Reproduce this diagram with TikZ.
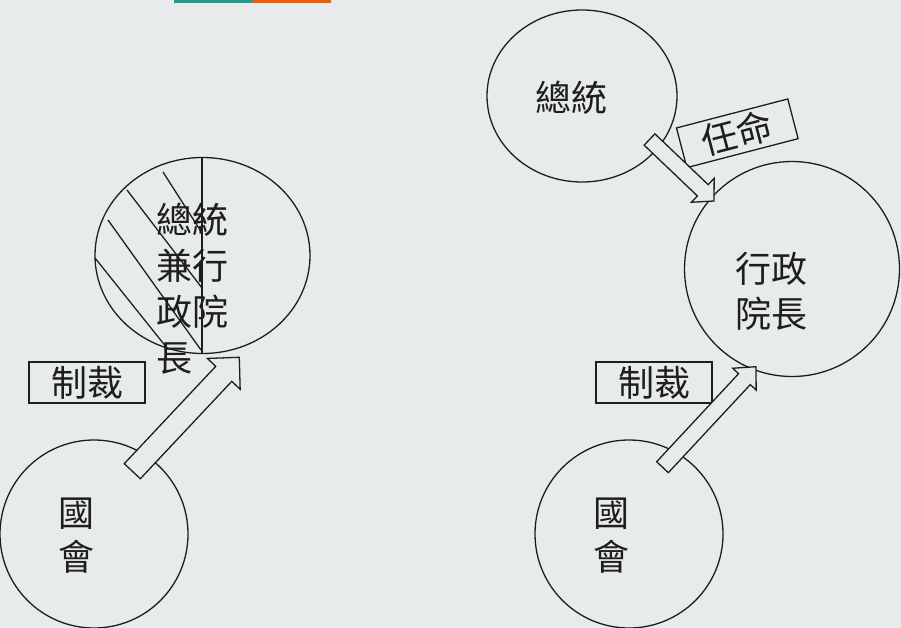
\documentclass[tikz,border=0pt]{standalone}
\usepackage{fontspec}
\newfontfamily\cjk{Noto Sans CJK TC}
\usetikzlibrary{shapes.geometric,calc}
\definecolor{bg}{HTML}{E8EBEC}
\definecolor{ink}{HTML}{1E1E1E}
\definecolor{teal}{HTML}{1B9E8A}
\definecolor{orng}{HTML}{F25C05}
\tikzset{
  outl/.style={draw=ink, line width=1.3pt},
  bubble/.style={outl, ellipse, inner sep=0pt},
  circ/.style={outl, circle, inner sep=0pt},
  txt/.style={text=ink, inner sep=0pt, font=\cjk\fontsize{36}{45}\selectfont},
  tagbox/.style={outl, fill=bg, inner sep=0pt, minimum width=116pt, minimum height=41pt, text=ink, font=\cjk\fontsize{36}{45}\selectfont},
  blockarr/.style={outl, fill=bg, line join=miter},
  hatch/.style={draw=ink, line width=1.3pt}
}
\newcommand\blockarrow[5]{%
  \coordinate (ba-h) at ($(#2)!#5!(#1)$);
  \draw[blockarr] ($(#1)!#3!90:(#2)$) -- ($(ba-h)!#3!90:(#2)$) -- ($(ba-h)!#4!90:(#2)$) -- (#2)
    -- ($(ba-h)!#4!-90:(#2)$) -- ($(ba-h)!#3!-90:(#2)$) -- ($(#1)!#3!-90:(#2)$) -- cycle;
}
\begin{document}
\begin{tikzpicture}[x=1pt,y=-1pt]
\useasboundingbox (0,0) rectangle (901,628);
\fill[bg] (0,0) rectangle (901,628);
\fill[teal] (174,0) rectangle (253,3);
\fill[orng] (253,0) rectangle (331,3);

% ---- left diagram ----
\node[bubble, minimum width=215pt, minimum height=196pt] (presL) at (202.5,255.5) {};
\coordinate (splitT) at (202,158);
\coordinate (splitB) at (202,353);
\draw[hatch] (splitT) -- (splitB);
\draw[hatch] (163,172) -- (202,233);
\draw[hatch] (127,190) -- (202,288);
\draw[hatch] (108,220) -- (201,350);
\draw[hatch] (95,258) -- (167,348);
\node[txt, align=left, anchor=west, font=\cjk\fontsize{36}{46}\selectfont] (presLT) at (156,288.5) {總統\\兼行\\政院\\長};

\node[circ, minimum size=188pt] (congL) at (94,534) {};
\node[txt, align=center, font=\cjk\fontsize{36}{44}\selectfont] (congLT) at (76,536) {國\\會};
\node[tagbox] (sanctL) at (87,382.5) {制裁};
\coordinate (arrLtail) at (132.3,471.2);
\coordinate (arrLtip) at (239.3,357.3);
\blockarrow{arrLtail}{arrLtip}{11pt}{22.5pt}{22.7pt}

% ---- right diagram ----
\node[bubble, minimum width=190pt, minimum height=172pt] (presR) at (582,96) {};
\node[txt] (presRT) at (571.5,98) {總統};
\node[circ, minimum size=215pt] (prem) at (792,269) {};
\node[txt, align=center] (premT) at (771,291) {行政\\院長};
\node[circ, minimum size=188pt] (congR) at (629,534) {};
\node[txt, align=center, font=\cjk\fontsize{36}{44}\selectfont] (congRT) at (611,536) {國\\會};
\node[tagbox] (sanctR) at (654,382.5) {制裁};
\node[tagbox, minimum width=115pt, rotate=14.6] (appoint) at (737.3,133.3) {任命};
\coordinate (arrTtail) at (649.5,139.5);
\coordinate (arrTtip) at (714,201);
\blockarrow{arrTtail}{arrTtip}{7.8pt}{16.5pt}{15.5pt}
\coordinate (arrRtail) at (662.5,467.2);
\coordinate (arrRtip) at (756,366.7);
\blockarrow{arrRtail}{arrRtip}{8pt}{16pt}{17pt}
\end{tikzpicture}
\end{document}
